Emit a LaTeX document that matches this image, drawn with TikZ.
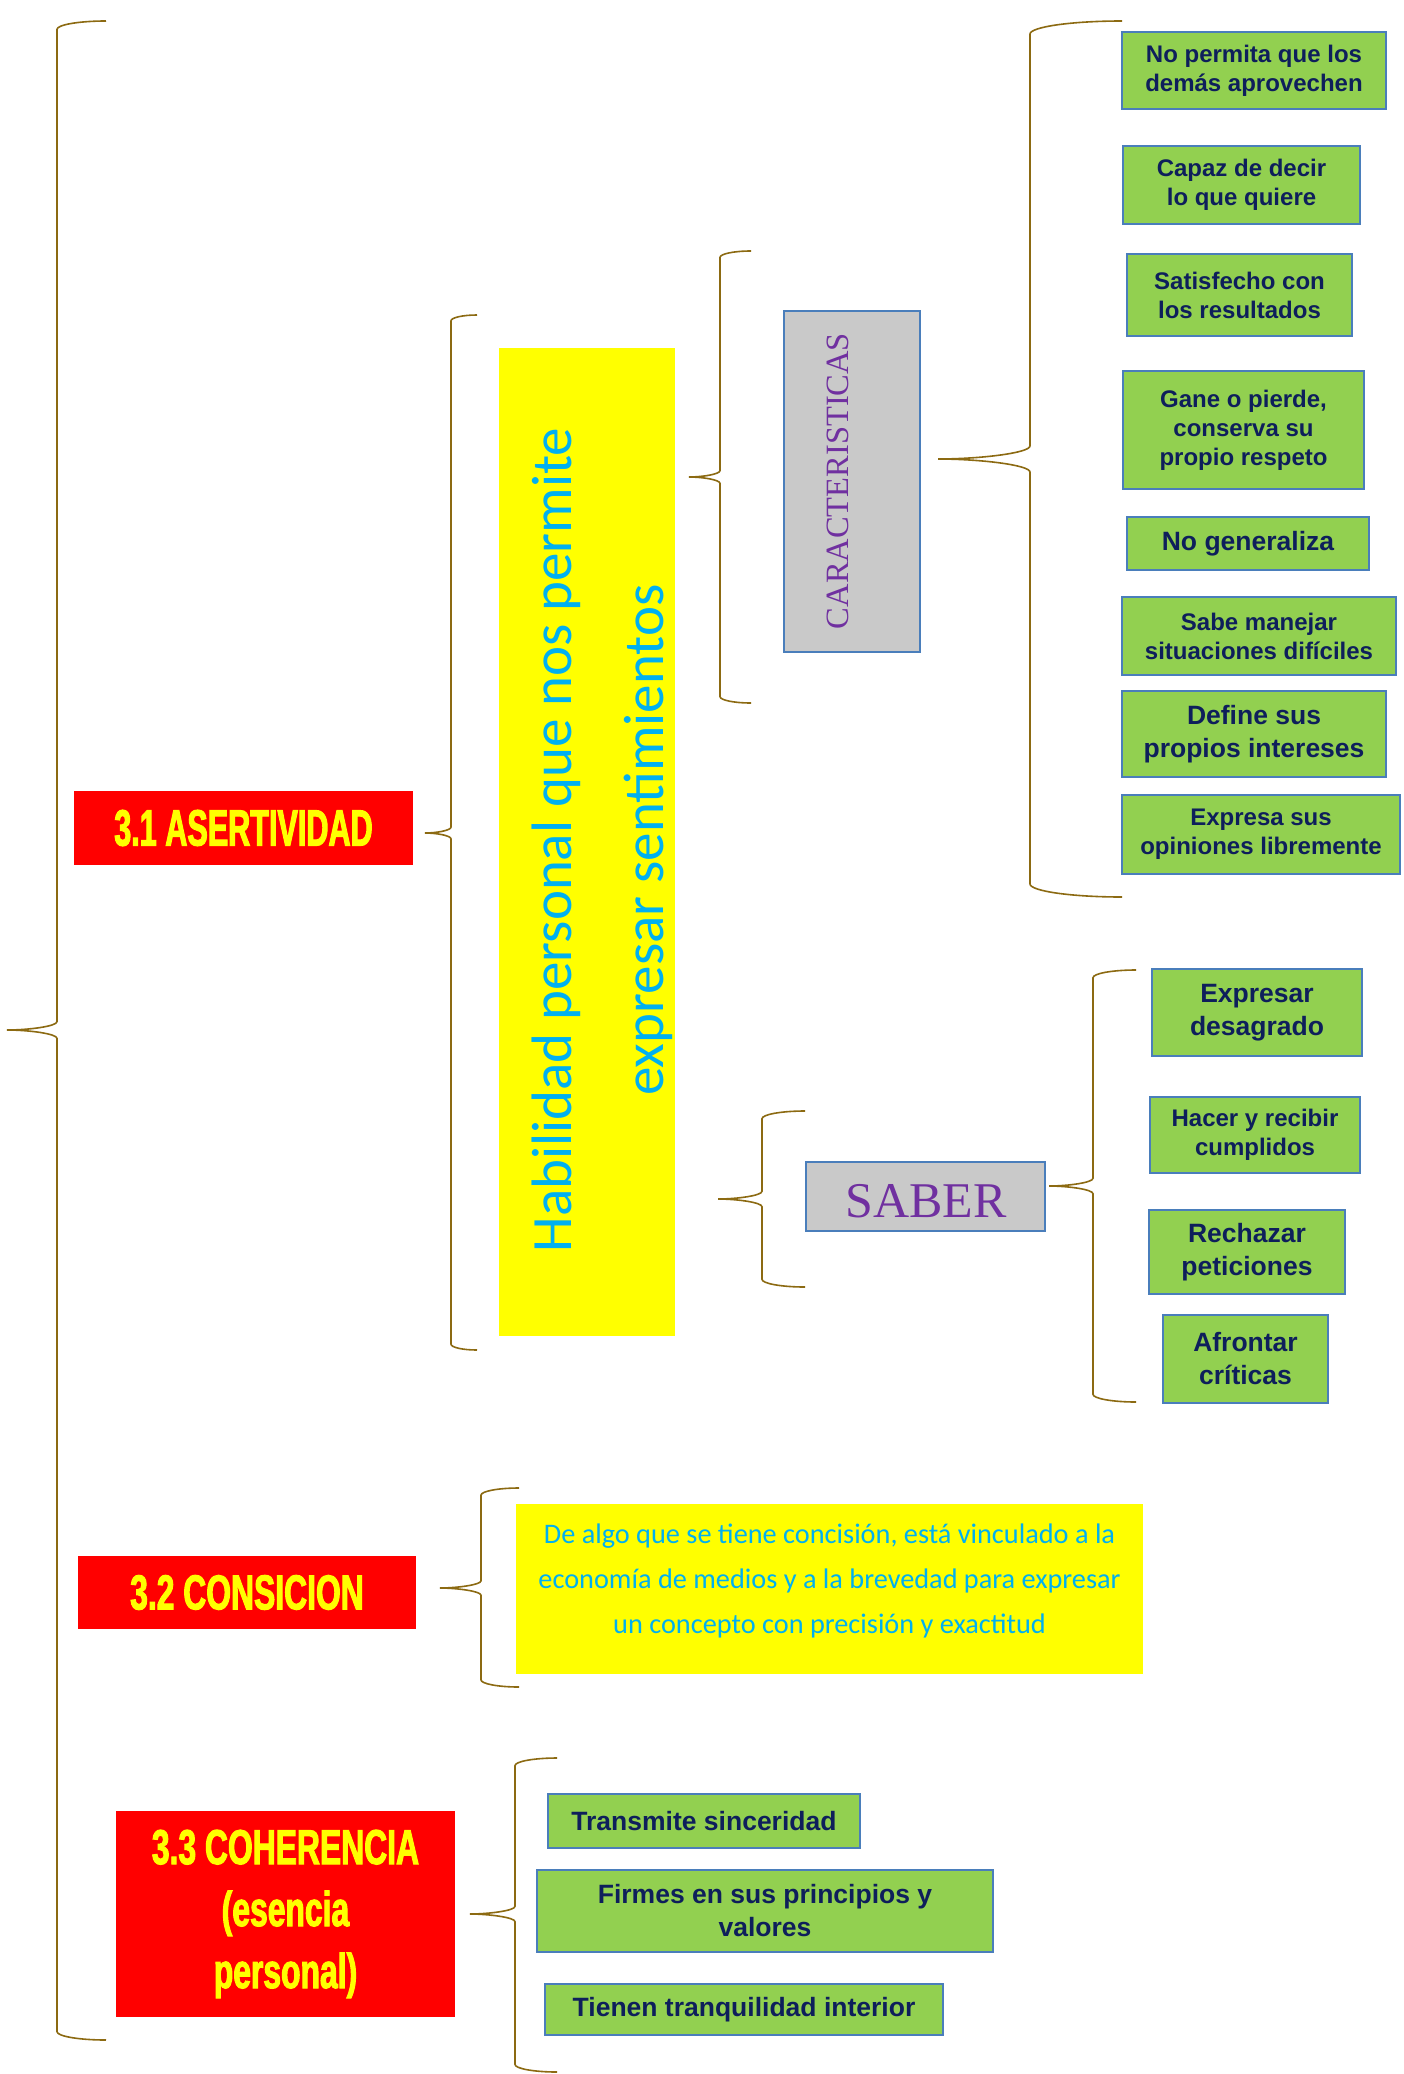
\documentclass[tikz,border=0pt]{standalone}
\usepackage{fontspec}
\setmainfont{Liberation Sans}
\newfontfamily\carl{Carlito}
\newfontfamily\tms{Liberation Serif}
\newfontfamily\agA{Liberation Sans}[FakeStretch=0.60,FakeBold=2]
\newfontfamily\agB{Liberation Sans}[FakeStretch=0.65,FakeBold=2]
\definecolor{brz}{HTML}{8C6A12}
\definecolor{grn}{HTML}{92D050}
\definecolor{bdr}{HTML}{4A7EBB}
\definecolor{navy}{HTML}{0E1F5B}
\definecolor{cyn}{HTML}{00B0F0}
\definecolor{purp}{HTML}{7030A0}
\definecolor{gry}{HTML}{C9C9C9}
\definecolor{redb}{HTML}{FF0000}
\definecolor{yel}{HTML}{FFFF00}
% curly brace: x end, x vertical, x tip, y top, y tip, y bottom
\newcommand\cbrace[6]{%
  \pgfmathsetmacro\cbrH{#1-#2}%
  \pgfmathsetmacro\cbrD{3+0.11*\cbrH}%
  \draw[bracestyle] (#1,#4) .. controls ({#2+0.45*\cbrH},#4) and (#2,{#4+0.45*\cbrD}) .. (#2,{#4+\cbrD})
    -- (#2,{#5-\cbrD}) .. controls (#2,{#5-0.45*\cbrD}) and ({#3+0.45*\cbrH},#5) .. (#3,#5)
    .. controls ({#3+0.45*\cbrH},#5) and (#2,{#5+0.45*\cbrD}) .. (#2,{#5+\cbrD})
    -- (#2,{#6-\cbrD}) .. controls (#2,{#6-0.45*\cbrD}) and ({#2+0.45*\cbrH},#6) .. (#1,#6);}
\begin{document}
\begin{tikzpicture}[x=1pt,y=-1pt,
  bracestyle/.style={draw=brz, line width=1.6pt},
  gbox/.style={draw=bdr, line width=2.5pt, fill=grn, text=navy, align=center, inner sep=0pt,
     font=\bfseries\fontsize{24}{29}\selectfont},
  gboxL/.style={gbox, font=\bfseries\fontsize{26.5}{33}\selectfont},
  rbox/.style={fill=redb, text=yel, align=center, inner sep=0pt},
  ybox/.style={fill=yel, inner sep=0pt},
  graybox/.style={fill=gry, draw=bdr, line width=2.5pt, inner sep=0pt}]
\useasboundingbox (0,0) rectangle (1404,2074);
\fill[white] (0,0) rectangle (1404,2074);

% ---- 3.1 ASERTIVIDAD ----
\node[rbox, font=\agA\bfseries\fontsize{51}{60}\selectfont, minimum width=339pt, minimum height=74pt] (asert) at (243.5,828) {3.1 ASERTIVIDAD};
\node[ybox, minimum width=176pt, minimum height=988pt] (habil) at (587,842) {};
\node[rotate=90, text=cyn, font=\carl\fontsize{57}{92}\selectfont, align=center, inner sep=0pt] (habtxt) at (602,840) {Habilidad personal que nos permite\\expresar sentimientos};

\node[graybox, minimum width=136pt, minimum height=341pt] (cara) at (852,481.5) {};
\node[rotate=90, text=purp, font=\tms\fontsize{32.5}{40}\selectfont, inner sep=0pt] (caratxt) at (838,481) {CARACTERISTICAS};

\node[gbox, minimum width=264pt, minimum height=77pt] (c1) at (1254,70.5) {No permita que los\\demás aprovechen};
\node[gbox, minimum width=237pt, minimum height=78pt] (c2) at (1241.5,185) {Capaz de decir\\lo que quiere};
\node[gbox, minimum width=225pt, minimum height=82pt] (c3) at (1239.5,295) {Satisfecho con\\los resultados};
\node[gbox, minimum width=241pt, minimum height=118pt] (c4) at (1243.5,430) {Gane o pierde,\\conserva su\\propio respeto};
\node[gboxL, minimum width=242pt, minimum height=53pt] (c5) at (1248,543.5) {No generaliza};
\node[gbox, minimum width=274pt, minimum height=78pt] (c6) at (1259,636) {Sabe manejar\\situaciones difíciles};
\node[gboxL, minimum width=264pt, minimum height=86pt] (c7) at (1254,734) {Define sus\\propios intereses};
\node[gbox, minimum width=278pt, minimum height=79pt] (c8) at (1261,834.5) {Expresa sus\\opiniones libremente};

\node[graybox, minimum width=239pt, minimum height=69pt] (saber) at (925.5,1196.5) {};
\node[text=purp, font=\tms\fontsize{50}{60}\selectfont, inner sep=0pt] (sabertxt) at (926,1201) {SABER};

\node[gboxL, minimum width=210pt, minimum height=87pt] (s1) at (1257,1012.5) {Expresar\\desagrado};
\node[gbox, minimum width=210pt, minimum height=76pt] (s2) at (1255,1135) {Hacer y recibir\\cumplidos};
\node[gboxL, minimum width=196pt, minimum height=84pt] (s3) at (1247,1252) {Rechazar\\peticiones};
\node[gboxL, minimum width=165pt, minimum height=88pt] (s4) at (1245.5,1359) {Afrontar\\críticas};

% ---- 3.2 CONSICION ----
\node[rbox, font=\agB\bfseries\fontsize{49}{60}\selectfont, minimum width=338pt, minimum height=73pt] (consi) at (247,1592.5) {3.2 CONSICION};
\node[ybox, minimum width=627pt, minimum height=170pt] (defi) at (829.5,1589) {};
\node[text=cyn, font=\carl\fontsize{28.3}{45}\selectfont, align=center, inner sep=0pt] (defitxt) at (829.5,1581) {De algo que se tiene concisión, está vinculado a la\\economía de medios y a la brevedad para expresar\\un concepto con precisión y exactitud};

% ---- 3.3 COHERENCIA ----
\node[rbox, font=\agB\bfseries\fontsize{49}{62}\selectfont, minimum width=339pt, minimum height=206pt] (coher) at (285.5,1914) {3.3 COHERENCIA\\(esencia\\personal)};
\node[gboxL, minimum width=312pt, minimum height=54pt] (t1) at (704,1821) {Transmite sinceridad};
\node[gboxL, minimum width=456pt, minimum height=82pt] (t2) at (765,1911) {Firmes en sus principios y\\valores};
\node[gboxL, minimum width=398pt, minimum height=51pt] (t3) at (744,2009.5) {Tienen tranquilidad interior};

% ---- braces ----
\cbrace{106}{57}{7}{21}{1030}{2040}
\cbrace{477}{451}{425}{315}{833}{1350}
\cbrace{751}{720}{689}{251}{477}{703}
\cbrace{1122}{1030}{938}{21}{459}{897}
\cbrace{805}{762}{718}{1111}{1199}{1287}
\cbrace{1136}{1093}{1049}{970}{1186}{1402}
\cbrace{519}{481}{440}{1488}{1588}{1687}
\cbrace{557}{515}{470}{1758}{1914}{2072}
\end{tikzpicture}
\end{document}
